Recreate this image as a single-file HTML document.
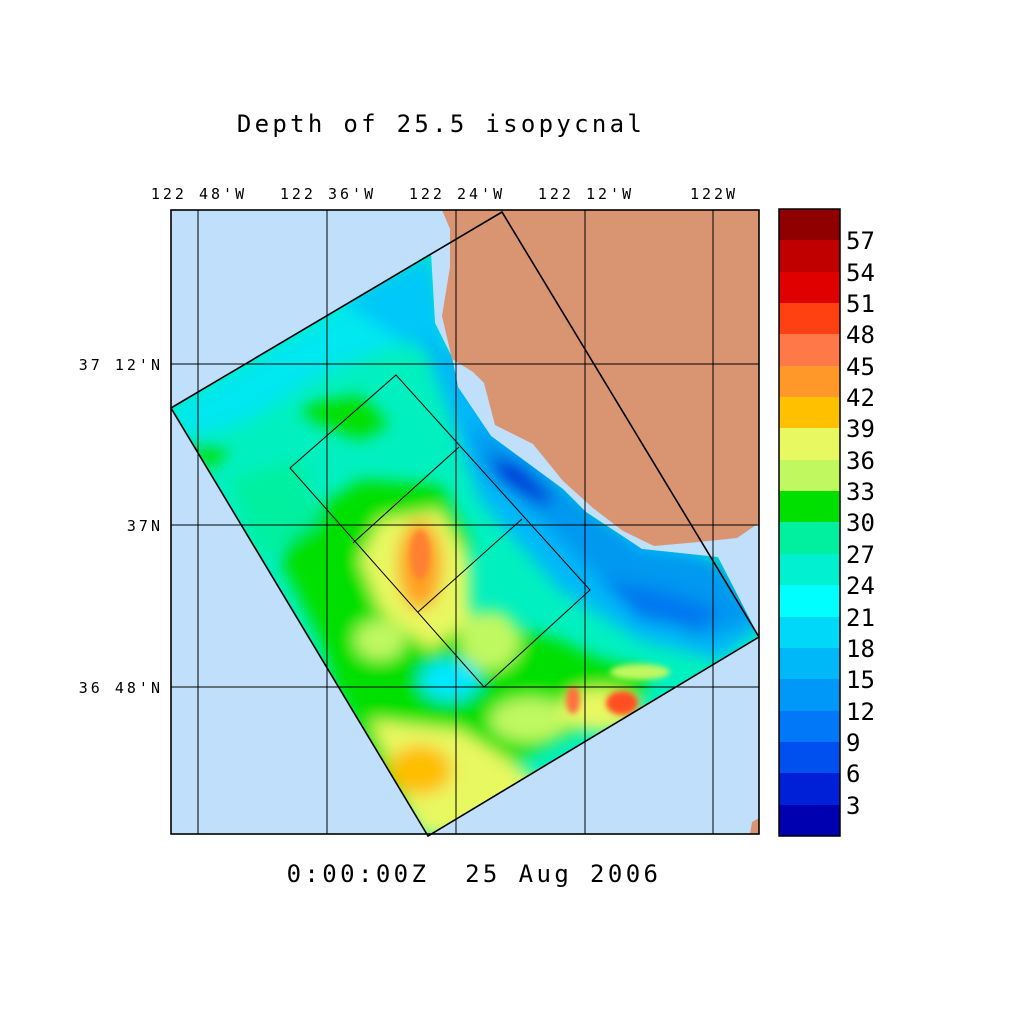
<!DOCTYPE html>
<html><head><style>
body{margin:0;background:#fff;}
text{font-family:"DejaVu Sans Mono","Liberation Mono",monospace;fill:#000;}
</style></head><body>
<svg width="1024" height="1024" viewBox="0 0 1024 1024" xmlns="http://www.w3.org/2000/svg">
<defs>
<clipPath id="fc"><polygon points="171,408 431,253 435,323 452,357 458,387 491,436 563,489 586,512 642,549 718,557 759,637 428,836"/></clipPath>
<filter id="b" x="-20%" y="-20%" width="140%" height="140%"><feGaussianBlur stdDeviation="8"/></filter>
<filter id="b2"><feGaussianBlur stdDeviation="3"/></filter>
</defs>
<text x="441" y="132" font-size="24" text-anchor="middle" letter-spacing="3.3">Depth of 25.5 isopycnal</text>
<rect x="171" y="210" width="588" height="624" fill="#c0dffa"/>
<g clip-path="url(#fc)">
<rect x="160" y="200" width="610" height="650" fill="#00f0c0"/>
<g filter="url(#b)">
<polygon points="171,408 431,253 440,330 330,370 250,420 190,440" fill="#00e8f0"/>
<polygon points="340,300 431,253 450,360 400,340" fill="#00c8f8"/>
<polygon points="420,330 470,360 560,480 600,520 700,550 770,620 720,660 640,640 560,590 480,500" fill="#00b8f8"/>
<polygon points="470,420 560,480 640,550 720,560 760,620 700,640 620,600 540,520 480,470" fill="#0098f0"/>
<polygon points="600,580 660,590 720,610 700,630 640,620" fill="#0078f0"/>
<polygon points="490,455 520,465 555,500 540,505 500,480" fill="#0030d8"/>
<polygon points="300,405 360,395 390,425 360,440 310,420" fill="#00e000"/>
<polygon points="180,440 230,450 210,470" fill="#00e000"/>
<polygon points="300,520 360,480 440,485 470,540 460,620 420,650 380,700 340,700 320,640 280,560" fill="#00e000"/>
<polygon points="230,480 300,460 320,520 260,560" fill="#00f0a0"/>
<polygon points="340,690 420,640 480,620 560,640 600,660 650,670 640,700 560,740 460,790 430,836 380,790" fill="#00e000"/>
<polygon points="380,520 440,510 470,560 470,620 430,650 380,610 360,560" fill="#e8f860"/>
<ellipse cx="420" cy="565" rx="22" ry="45" fill="#ffa020"/>
<polygon points="370,720 460,730 540,780 520,800 470,836 420,836" fill="#e8f860"/>
<ellipse cx="420" cy="770" rx="32" ry="25" fill="#ffbe00"/>
<ellipse cx="490" cy="640" rx="30" ry="30" fill="#c0f860"/>
<ellipse cx="530" cy="720" rx="40" ry="22" fill="#c0f860"/>
<ellipse cx="380" cy="640" rx="25" ry="20" fill="#c0f860"/>
<ellipse cx="450" cy="680" rx="30" ry="20" fill="#00e8ff"/>
<ellipse cx="600" cy="710" rx="40" ry="22" fill="#e8f860"/>
</g>
<g filter="url(#b2)">
<ellipse cx="622" cy="703" rx="16" ry="12" fill="#ff5020"/>
<ellipse cx="573" cy="700" rx="7" ry="14" fill="#ff7040"/>
<ellipse cx="420" cy="555" rx="10" ry="25" fill="#ff8030"/>
<ellipse cx="640" cy="672" rx="30" ry="8" fill="#c0f860"/>
</g>
</g>
<polygon points="442,210 450,229 450,267 442,316 452,359 473,372 484,383 495,425 533,444 563,481 593,508 623,531 654,546 699,542 737,538 759,523 759,210" fill="#d99472"/>
<polygon points="759,818 752,822 750,834 759,834" fill="#d99472"/>
<g stroke="#000" stroke-width="1" fill="none">
<line x1="198" y1="210" x2="198" y2="834"/><line x1="327" y1="210" x2="327" y2="834"/><line x1="456" y1="210" x2="456" y2="834"/><line x1="585" y1="210" x2="585" y2="834"/><line x1="713" y1="210" x2="713" y2="834"/>
<line x1="171" y1="364" x2="759" y2="364"/><line x1="171" y1="525" x2="759" y2="525"/><line x1="171" y1="687" x2="759" y2="687"/>
<polygon points="290,468 396,375 590,590 484,687"/>
<line x1="353" y1="543" x2="459" y2="447"/><line x1="418" y1="612" x2="522" y2="519"/>
<polygon points="171,408 502,212 759,637 428,836" stroke-width="1.6"/>
<rect x="171" y="210" width="588" height="624" stroke-width="1.6"/>
</g>
<g font-size="15" text-anchor="middle" letter-spacing="3">
<text x="199" y="199">122 48'W</text><text x="328" y="199">122 36'W</text><text x="457" y="199">122 24'W</text><text x="586" y="199">122 12'W</text><text x="714" y="199">122W</text>
</g>
<g font-size="15" text-anchor="end" letter-spacing="3">
<text x="163" y="370">37 12'N</text><text x="163" y="531">37N</text><text x="163" y="693">36 48'N</text>
</g>
<text x="474" y="882" font-size="24" text-anchor="middle" letter-spacing="3.4" xml:space="preserve">0:00:00Z  25 Aug 2006</text>
<g>
<rect x="779" y="805" width="61" height="31" fill="#0000b0"/>
<rect x="779" y="773" width="61" height="32" fill="#0020d8"/>
<rect x="779" y="742" width="61" height="31" fill="#0050f0"/>
<rect x="779" y="711" width="61" height="31" fill="#0078f8"/>
<rect x="779" y="679" width="61" height="32" fill="#0098f8"/>
<rect x="779" y="648" width="61" height="31" fill="#00b8f8"/>
<rect x="779" y="617" width="61" height="31" fill="#00d8f8"/>
<rect x="779" y="585" width="61" height="32" fill="#00ffff"/>
<rect x="779" y="554" width="61" height="31" fill="#00f0d0"/>
<rect x="779" y="522" width="61" height="32" fill="#00f0a0"/>
<rect x="779" y="491" width="61" height="31" fill="#00e000"/>
<rect x="779" y="460" width="61" height="31" fill="#c0f860"/>
<rect x="779" y="428" width="61" height="32" fill="#e8f860"/>
<rect x="779" y="397" width="61" height="31" fill="#ffc000"/>
<rect x="779" y="366" width="61" height="31" fill="#ff9828"/>
<rect x="779" y="334" width="61" height="32" fill="#ff7848"/>
<rect x="779" y="303" width="61" height="31" fill="#ff4010"/>
<rect x="779" y="272" width="61" height="31" fill="#e00000"/>
<rect x="779" y="240" width="61" height="32" fill="#c00000"/>
<rect x="779" y="209" width="61" height="31" fill="#900000"/>
<rect x="779" y="209" width="61" height="627" fill="none" stroke="#000" stroke-width="1.5"/>
</g>
<g font-size="24">
<text x="846" y="814">3</text><text x="846" y="782">6</text><text x="846" y="751">9</text><text x="846" y="720">12</text><text x="846" y="688">15</text><text x="846" y="657">18</text><text x="846" y="626">21</text><text x="846" y="594">24</text><text x="846" y="563">27</text><text x="846" y="531">30</text><text x="846" y="500">33</text><text x="846" y="469">36</text><text x="846" y="437">39</text><text x="846" y="406">42</text><text x="846" y="375">45</text><text x="846" y="343">48</text><text x="846" y="312">51</text><text x="846" y="281">54</text><text x="846" y="249">57</text>
</g>
</svg>
</body></html>
